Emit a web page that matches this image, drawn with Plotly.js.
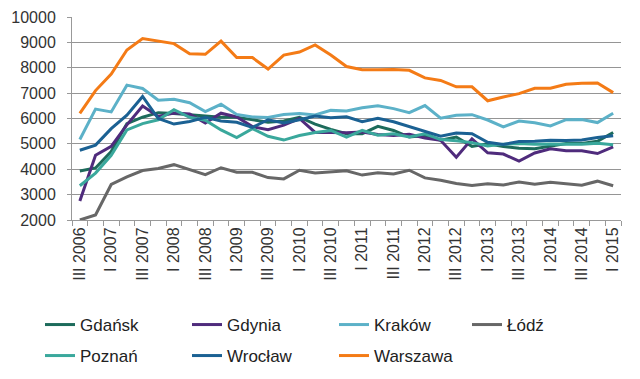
<!DOCTYPE html>
<html>
<head>
<meta charset="utf-8">
<script src="https://cdn.plot.ly/plotly-3.0.1.min.js"></script>
<style>html,body{margin:0;padding:0;background:#fff;}#chart{width:640px;height:379px;}</style>
</head>
<body>
<div id="chart"></div>
<script>
const quarters = ['III 2006','IV 2006','I 2007','II 2007','III 2007','IV 2007','I 2008','II 2008','III 2008','IV 2008',
  'I 2009','II 2009','III 2009','IV 2009','I 2010','II 2010','III 2010','IV 2010','I 2011','II 2011',
  'III 2011','IV 2011','I 2012','II 2012','III 2012','IV 2012','I 2013','II 2013','III 2013','IV 2013',
  'I 2014','II 2014','III 2014','IV 2014','I 2015'];

const seriesNames = ['Gdańsk','Gdynia','Kraków','Łódź','Poznań','Wrocław','Warszawa'];

const gdansk = [3930,4050,4700,5800,6050,6230,6200,6150,6100,6050,6050,5950,5850,5900,6050,5780,5570,5400,5400,5690,
  5530,5270,5330,5140,5270,4900,5000,4900,4830,4810,4900,5010,5020,5100,5450];
const gdynia = [2750,4550,4900,5750,6490,6080,6220,6180,5820,6210,6060,5680,5560,5740,6000,5450,5450,5440,5470,5370,
  5330,5380,5230,5140,4470,5200,4650,4600,4320,4640,4810,4730,4730,4620,4880];
const krakow = [5170,6370,6260,7315,7185,6720,6760,6620,6270,6560,6160,6060,6040,6160,6200,6140,6320,6300,6420,6500,
  6390,6230,6510,6010,6130,6150,5940,5670,5900,5830,5710,5955,5960,5840,6210];
const lodz = [2000,2200,3400,3700,3950,4030,4180,3990,3790,4060,3880,3880,3670,3620,3960,3850,3890,3940,3770,3860,
  3810,3960,3660,3570,3440,3360,3430,3380,3500,3410,3490,3440,3370,3530,3350];
const poznan = [3350,3850,4550,5550,5800,5950,6350,6050,5930,5550,5250,5600,5300,5150,5330,5450,5530,5270,5530,5340,
  5400,5270,5400,5170,5120,5050,4920,4990,5010,4990,5000,5000,4990,5020,4970];
const wroclaw = [4750,4950,5600,6130,6870,6000,5780,5880,6050,5900,5850,5650,5950,5820,5950,6100,6030,6070,5870,6010,
  5870,5670,5470,5300,5430,5400,5060,4980,5090,5100,5140,5130,5150,5250,5320];
const warszawa = [6200,7100,7750,8700,9150,9050,8950,8550,8530,9050,8400,8400,7950,8500,8620,8900,8500,8050,7920,7920,
  7930,7900,7600,7500,7250,7250,6700,6850,6980,7190,7190,7350,7390,7400,7020];

const yTicks = [2000,3000,4000,5000,6000,7000,8000,9000,10000];

const values = [gdansk, gdynia, krakow, lodz, poznan, wroclaw, warszawa];
const colors = ['#1d6b5b','#4f2b7c','#5cb1c8','#676767','#3aa89c','#1b6193','#f47b16'];
const legendOf = ['legend','legend','legend','legend3','legend2','legend2','legend2'];

const traces = values.map((v, k) => ({
  type: 'scatter', mode: 'lines', name: seriesNames[k],
  x: quarters, y: v,
  line: {color: colors[k], width: 3},
  legend: legendOf[k]
}));

const FF = 'Liberation Sans, Arial, sans-serif';
const legFont = {family: FF, size: 17, color: '#222'};
function leg(xpx, ypx) {
  return {
    orientation: 'h', xref: 'container', yref: 'container',
    x: xpx/640, xanchor: 'left', y: 1 - ypx/379, yanchor: 'middle',
    entrywidth: 102, entrywidthmode: 'pixels',
    font: legFont, bgcolor: 'rgba(0,0,0,0)', traceorder: 'normal'
  };
}

const layout = {
  width: 640, height: 379,
  margin: {l: 72, r: 19, t: 17, b: 159},
  paper_bgcolor: '#fff', plot_bgcolor: '#fff',
  font: {family: FF, size: 16, color: '#333'},
  showlegend: true,
  xaxis: {
    type: 'category', range: [-0.5, quarters.length - 0.5],
    tickmode: 'array', tickvals: quarters,
    ticktext: quarters.map((q, i) => i % 2 === 0 ? q : ''),
    tickangle: -90, ticks: 'outside', tickson: 'boundaries', ticklen: 5, tickcolor: '#999',
    showline: true, linecolor: '#999', linewidth: 1, showgrid: false, zeroline: false,
    tickfont: {family: FF, size: 16, color: '#333'}
  },
  yaxis: {
    range: [2000, 10000], tickmode: 'array', tickvals: yTicks,
    ticktext: yTicks.map(String),
    ticks: 'outside', ticklen: 4, tickcolor: '#999',
    showline: true, linecolor: '#999', linewidth: 1,
    showgrid: true, gridcolor: '#959595', gridwidth: 1.2, zeroline: false,
    ticklabelstandoff: 8,
    tickfont: {family: FF, size: 16, color: '#333'}
  },
  legend: leg(40, 325),
  legend3: leg(467, 325),
  legend2: leg(40, 356)
};

Plotly.newPlot('chart', traces, layout, {displayModeBar: false, staticPlot: true});
</script>
</body>
</html>
